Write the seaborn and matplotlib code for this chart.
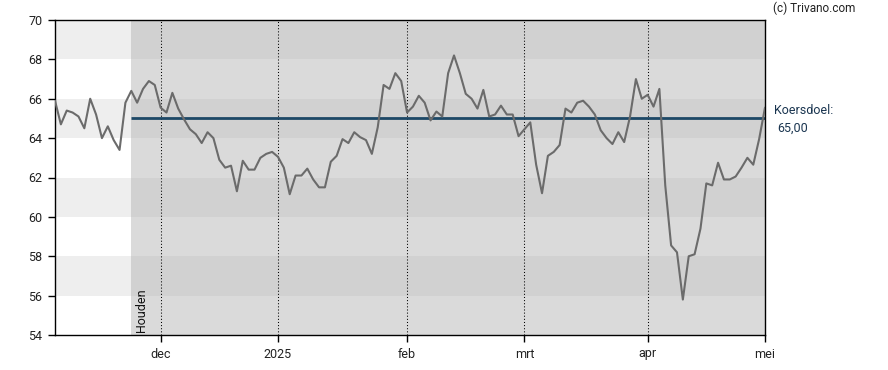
import numpy as np
import pandas as pd
import matplotlib
matplotlib.use("Agg")
import matplotlib.pyplot as plt
from matplotlib.patches import Rectangle
import seaborn as sns

# ---- data ----
prices = [65.9, 64.7, 65.4, 65.3, 65.1, 64.5, 66.0, 65.2, 64.0, 64.6,
          63.9, 63.4, 65.8, 66.4, 65.8, 66.5, 66.9, 66.7, 65.55, 65.3,
          66.3, 65.5, 64.95, 64.45, 64.2, 63.75, 64.3, 64.0, 62.9, 62.5,
          62.6, 61.3, 62.85, 62.4, 62.4, 63.0, 63.2, 63.3, 63.05, 62.5,
          61.15, 62.1, 62.1, 62.45, 61.9, 61.5, 61.5, 62.8, 63.1, 63.95,
          63.75, 64.3, 64.05, 63.9, 63.2, 64.55, 66.7, 66.5, 67.3, 66.9,
          65.3, 65.6, 66.15, 65.8, 64.9, 65.35, 65.1, 67.3, 68.2, 67.3,
          66.25, 66.0, 65.5, 66.45, 65.1, 65.2, 65.65, 65.2, 65.2, 64.1,
          64.45, 64.8, 62.65, 61.2, 63.1, 63.3, 63.65, 65.5, 65.3, 65.8,
          65.9, 65.6, 65.2, 64.4, 64.0, 63.7, 64.3, 63.8, 65.1, 67.0,
          66.0, 66.2, 65.6, 66.5, 61.6, 58.55, 58.2, 55.8, 58.0, 58.1,
          59.4, 61.7, 61.6, 62.75, 61.9, 61.9, 62.05, 62.5, 63.0, 62.65,
          63.95, 65.55]
month_labels = ["dec", "2025", "feb", "mrt", "apr", "mei"]
month_pos = [18, 38, 60, 80, 101, 121]
y_ticks = [54, 56, 58, 60, 62, 64, 66, 68, 70]
band_lows = [56, 60, 64, 68]
target = 65.0
target_label = "Koersdoel:"
target_value_label = "65,00"
rating = "Houden"
rating_start = 13
credit = "(c) Trivano.com"

sns.set_theme(style="white")
plt.rcParams["font.family"] = ["Roboto", "DejaVu Sans"]

W, H = 888, 370
fig = plt.figure(figsize=(W / 100, H / 100), dpi=100)
ax = fig.add_axes([55 / W, 35 / H, 710 / W, 315 / H])

n = len(prices) - 1
ymin, ymax = y_ticks[0], y_ticks[-1]

# backgrounds
ax.add_patch(Rectangle((0, ymin), rating_start, ymax - ymin, facecolor="white", lw=0, zorder=0))
for lo in band_lows:
    ax.add_patch(Rectangle((0, lo), rating_start, 2, facecolor="#eeeeee", lw=0, zorder=0))
ax.add_patch(Rectangle((rating_start, ymin), n - rating_start, ymax - ymin,
                       facecolor="#dadada", lw=0, zorder=0))
for lo in band_lows:
    ax.add_patch(Rectangle((rating_start, lo), n - rating_start, 2,
                           facecolor="#d1d1d1", lw=0, zorder=0))

for p in month_pos[:-1]:
    ax.axvline(p, color="black", ls=(0, (1, 2)), lw=0.75, zorder=1)

ax.hlines(target, rating_start, n, color="#1d4866", lw=2.0, zorder=2)

df = pd.DataFrame({"idx": np.arange(len(prices)), "price": prices})
sns.lineplot(data=df, x="idx", y="price", ax=ax, color="#6b6b6b", lw=1.5, zorder=3)

ax.set_xlim(0, n)
ax.set_ylim(ymin, ymax)
ax.set_xticks(month_pos)
ax.set_xticklabels(month_labels)
ax.set_yticks(y_ticks)
ax.set_yticklabels([str(v) for v in y_ticks])
ax.set_xlabel("")
ax.set_ylabel("")
ax.tick_params(axis="both", direction="out", length=5, width=1, color="black",
               labelsize=9, labelcolor="#222222", bottom=True, left=True, pad=4)
for s in ax.spines.values():
    s.set_visible(True)
    s.set_color("black")
    s.set_linewidth(1)
ax.grid(False)

ax.text(rating_start + 0.55, ymin + 0.15, rating, rotation=90, ha="left", va="bottom",
        fontsize=9, color="#111111", zorder=4)

fig.text(774 / W, 1 - 110 / H, target_label, ha="left", va="center", fontsize=9, color="#1a3550")
fig.text(777 / W, 1 - 128 / H, target_value_label, ha="left", va="center", fontsize=9, color="#1a3550")
fig.text(773 / W, 1 - 8 / H, credit, ha="left", va="center", fontsize=8.5, color="#222222")

fig.savefig("out.png", dpi=100)
